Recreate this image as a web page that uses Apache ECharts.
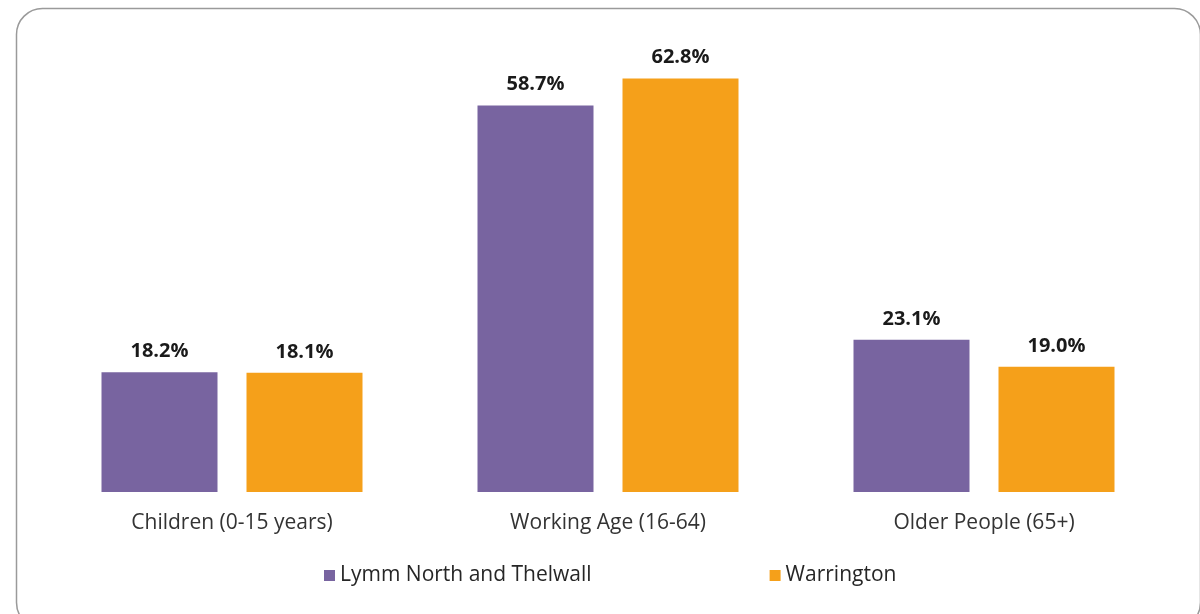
<!DOCTYPE html>
<html>
<head>
<meta charset="utf-8">
<script src="https://cdn.jsdelivr.net/npm/echarts@6/dist/echarts.min.js"></script>
<style>
  html, body { margin: 0; padding: 0; background: #fff; }
  #main { width: 1200px; height: 614px; }
</style>
</head>
<body>
<div id="main"></div>
<script>
var categories = ['Children (0-15 years)', 'Working Age (16-64)', 'Older People (65+)'];
var seriesNames = ['Lymm North and Thelwall', 'Warrington'];
var lymmValues = [18.2, 58.7, 23.1];
var warringtonValues = [18.1, 62.8, 19.0];

var myChart = echarts.init(document.getElementById('main'));
var font = '"Open Sans", "Noto Sans", sans-serif';
var labelStyle = {
  show: true,
  position: 'top',
  distance: 11,
  formatter: function (p) { return p.value.toFixed(1) + '%'; },
  fontFamily: font,
  fontSize: 20,
  fontWeight: 'bold',
  color: '#1a1a1a'
};
var option = {
  animation: false,
  graphic: [{
    type: 'rect',
    left: 14, top: 6,
    shape: { width: 1184, height: 620, r: 26 },
    style: { fill: 'none', stroke: '#9a9a9a', lineWidth: 1.5 },
    silent: true
  }],
  grid: { left: 44, right: 28, top: 31, bottom: 122 },
  legend: {
    data: seriesNames,
    left: 319,
    top: 560,
    itemGap: 178,
    itemWidth: 11,
    itemHeight: 11,
    icon: 'rect',
    textStyle: { fontFamily: font, fontSize: 21, color: '#262626' }
  },
  xAxis: {
    type: 'category',
    data: categories,
    axisLine: { show: false },
    axisTick: { show: false },
    axisLabel: { margin: 21, fontFamily: font, fontSize: 21, color: '#333' }
  },
  yAxis: {
    type: 'value',
    min: 0,
    max: 70,
    show: false,
    splitLine: { show: false }
  },
  series: [
    {
      name: seriesNames[0],
      type: 'bar',
      data: lymmValues,
      barWidth: 116,
      barGap: '25%',
      itemStyle: { color: '#7864a0' },
      label: labelStyle
    },
    {
      name: seriesNames[1],
      type: 'bar',
      data: warringtonValues,
      barWidth: 116,
      barGap: '25%',
      itemStyle: { color: '#f5a01a' },
      label: labelStyle
    }
  ]
};
myChart.setOption(option);
</script>
</body>
</html>
